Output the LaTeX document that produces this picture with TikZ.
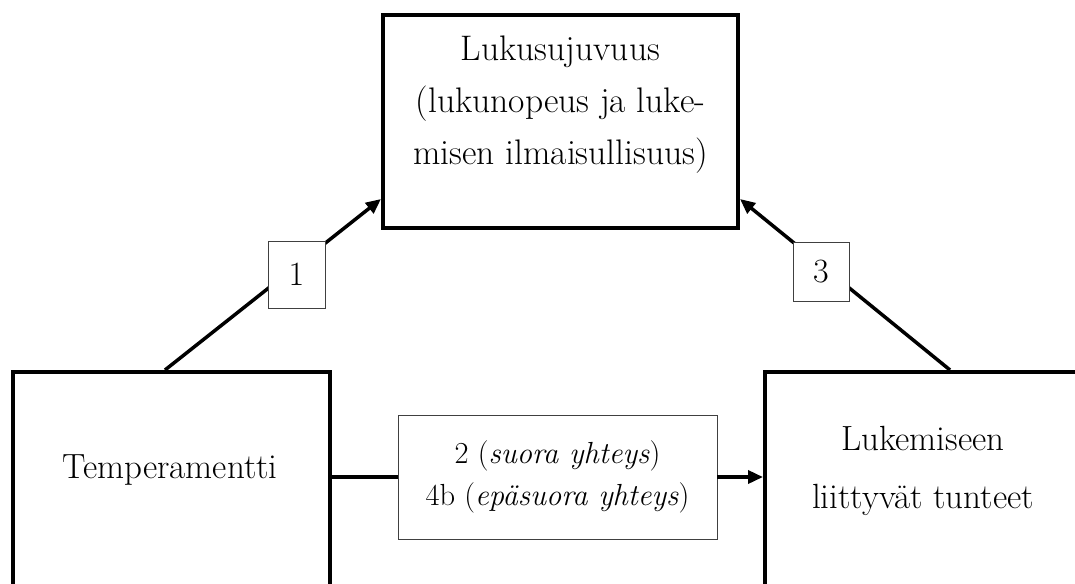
\documentclass[tikz,border=0pt]{standalone}
\usetikzlibrary{arrows.meta}
\begin{document}
\begin{tikzpicture}[x=1pt,y=-1pt,
  box/.style={draw,line width=4pt,rectangle,inner sep=0pt},
  lab/.style={draw=black!75,line width=0.9pt,fill=white,inner sep=0pt,font=\fontsize{34}{40}\selectfont},
  conn/.style={line width=3.5pt},
  tip/.style={-{Triangle[length=15pt,width=13pt]}},
  txt/.style={align=center,inner sep=0pt}]
\useasboundingbox (0,0) rectangle (1075,583);
\clip (0,0) rectangle (1075,583);
% boxes
\node[box,minimum width=355pt,minimum height=213pt] (T) at (560.5,121.5) {};
\node[box,minimum width=317pt,minimum height=328pt] (L) at (171.5,536) {};
\node[box,minimum width=435pt,minimum height=328pt] (R) at (982.5,536) {};
% texts
\node[txt,font=\fontsize{35.5}{52}\selectfont] (Tt) at (560.5,105) {Lukusujuvuus\\(lukunopeus ja luke-\\misen ilmaisullisuus)};
\node[txt,font=\fontsize{35}{40}\selectfont] (Lt) at (170,470) {Temperamentti};
\node[txt,font=\fontsize{35}{58}\selectfont] (Rt) at (923,471) {Lukemiseen\\liittyvät tunteet};
% middle label
\node[draw=black!75,line width=0.9pt,fill=white,minimum width=319pt,minimum height=124pt,inner sep=0pt,align=center,font=\fontsize{30.5}{42}\selectfont] (M) at (557.5,477) {2 (\textit{suora yhteys})\\4b (\textit{epäsuora yhteys})};
% connectors
\draw[conn] (M.west -| L.east) -- (M.west);
\draw[conn,tip] (M.east) -- (M.east -| R.west);
\draw[conn,tip] ([xshift=154pt]L.north west) -- ([yshift=31pt]T.south west);
\draw[conn,tip] ([xshift=-252pt]R.north east) -- ([yshift=31pt]T.south east);
% number labels
\node[lab,minimum width=57pt,minimum height=67pt] (n1) at (296.5,274.5) {1};
\node[lab,minimum width=56pt,minimum height=59pt] (n3) at (821,271.5) {3};
\end{tikzpicture}
\end{document}
